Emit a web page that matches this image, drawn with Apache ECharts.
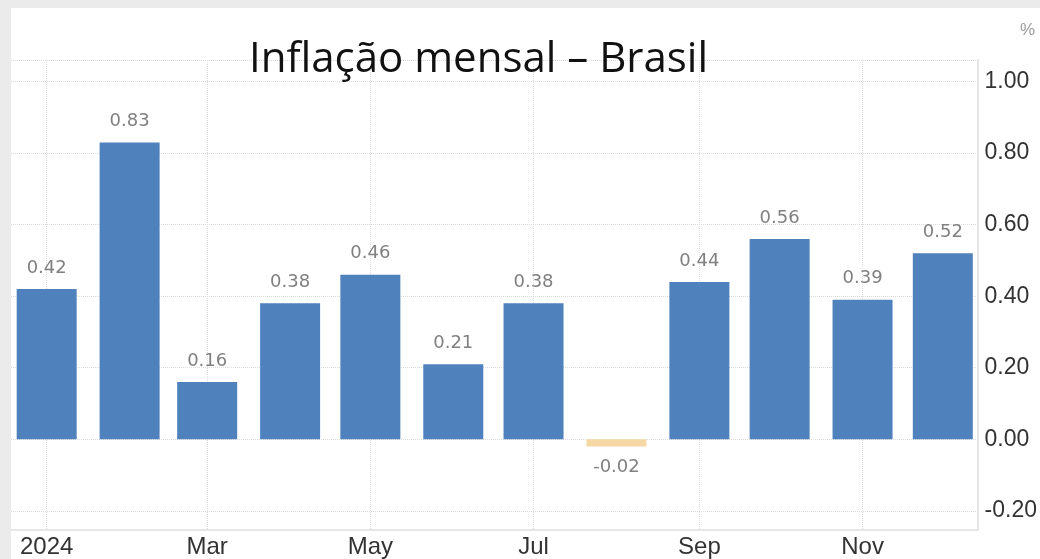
<!DOCTYPE html>
<html>
<head>
<meta charset="utf-8">
<script src="https://cdn.jsdelivr.net/npm/echarts@6/dist/echarts.min.js"></script>
<style>
  html, body { margin: 0; padding: 0; width: 1040px; height: 559px; overflow: hidden; background: #ebebeb; }
  #chart { position: absolute; left: 11px; top: 8px; width: 1029px; height: 551px; background: #ffffff; }
</style>
</head>
<body>
<div id="chart"></div>
<script>
// ---- data ----
const months = ['2024-01-01','2024-02-01','2024-03-01','2024-04-01','2024-05-01','2024-06-01',
                '2024-07-01','2024-08-01','2024-09-01','2024-10-01','2024-11-01','2024-12-01'];
const inflation = [0.42, 0.83, 0.16, 0.38, 0.46, 0.21, 0.38, -0.02, 0.44, 0.56, 0.39, 0.52];
const xTickDates = ['2024-01-01','2024-03-01','2024-05-01','2024-07-01','2024-09-01','2024-11-01'];
const xTickLabels = ['2024','Mar','May','Jul','Sep','Nov'];
const yTickValues = [-0.2, 0, 0.2, 0.4, 0.6, 0.8, 1.0];
const titleText = 'Inflação mensal – Brasil';
const unitText = '%';

// ---- helpers ----
function ts(s) { const p = s.split('-').map(Number); return Date.UTC(p[0], p[1] - 1, p[2]); }
const DAY = 864e5;
const jan1 = ts('2024-01-01');
const xMin = jan1 - 13.34 * DAY;
const xMax = jan1 + 348.0 * DAY;
const yMin = -0.2536, yMax = 1.0603;
const xTickNums = xTickDates.map(ts);

const POS = '#4f81bd', NEG = '#f6d8a4';
const seriesData = months.map((m, i) => {
  const v = inflation[i];
  return {
    value: [ts(m), v],
    itemStyle: { color: v < 0 ? NEG : POS },
    label: { position: v < 0 ? 'bottom' : 'top' }
  };
});

const chart = echarts.init(document.getElementById('chart'), null, { renderer: 'canvas' });
chart.setOption({
  animation: false,
  backgroundColor: '#ffffff',
  title: [
    { text: titleText, left: 233, top: 26,
      textStyle: { fontFamily: 'Open Sans', fontSize: 42, fontWeight: 'normal', color: '#111111' } },
    { text: unitText, right: 0, top: 9,
      textStyle: { fontFamily: 'Liberation Sans', fontSize: 17, fontWeight: 'normal', color: '#9a9a9a' } }
  ],
  grid: { left: 0, right: 62, top: 52, bottom: 24, containLabel: false },
  xAxis: {
    type: 'value',
    min: xMin, max: xMax,
    axisLine: { show: true, onZero: false, lineStyle: { color: '#e6e6e6', width: 2 } },
    axisTick: { show: false, customValues: xTickNums },
    splitLine: { show: true, lineStyle: { color: '#dcdcdc', type: 'dotted', width: 1 } },
    axisLabel: {
      customValues: xTickNums,
      margin: 5,
      fontFamily: 'Liberation Sans', fontSize: 24, color: '#333333',
      formatter: function (val) {
        const idx = xTickNums.indexOf(val);
        return idx >= 0 ? xTickLabels[idx] : '';
      }
    }
  },
  yAxis: {
    type: 'value',
    position: 'right',
    min: yMin, max: yMax,
    axisLine: { show: true, lineStyle: { color: '#e6e6e6', width: 2 } },
    axisTick: { show: false, customValues: yTickValues.concat([yMax]) },
    splitLine: { show: true, lineStyle: { color: '#dcdcdc', type: 'dotted', width: 1 } },
    axisLabel: {
      customValues: yTickValues,
      margin: 7,
      padding: [0, 0, 10, 0],
      fontFamily: 'Liberation Sans', fontSize: 23, color: '#333333',
      formatter: function (v) { return v.toFixed(2); }
    }
  },
  series: [{
    type: 'bar',
    barWidth: 60,
    data: seriesData,
    label: {
      show: true,
      distance: 12,
      fontFamily: 'DejaVu Sans', fontSize: 18, color: '#808080',
      formatter: function (p) { return p.value[1].toFixed(2); }
    }
  }]
});
</script>
</body>
</html>
